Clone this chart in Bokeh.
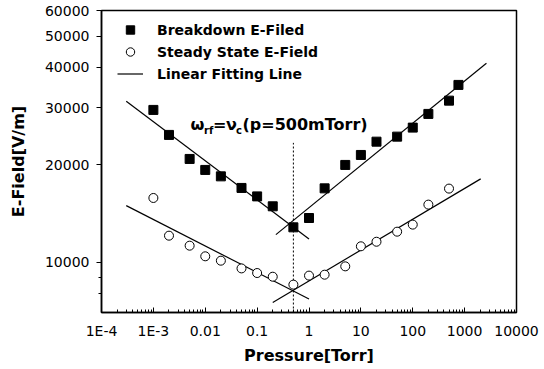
import math
from bokeh.plotting import figure
from bokeh.models import FixedTicker, Label, Legend, LegendItem, Range1d
from bokeh.embed import file_html
from bokeh.resources import INLINE

# ---------------- data ----------------
pressure_torr = [0.001, 0.002, 0.005, 0.01, 0.02, 0.05, 0.1, 0.2, 0.5, 1, 2, 5,
                 10, 20, 50, 100, 200, 500, 760]
breakdown_field = [29580, 24760, 20870, 19300, 18440, 16980, 15990, 14900, 12830,
                   13710, 16930, 20000, 21470, 23600, 24460, 26080, 28750, 31600, 35340]

steady_pressure_torr = [0.001, 0.002, 0.005, 0.01, 0.02, 0.05, 0.1, 0.2, 0.5, 1, 2, 5,
                        10, 20, 50, 100, 200, 500]
steady_field = [15810, 12090, 11260, 10440, 10120, 9580, 9270, 9030, 8535, 9100,
                9160, 9720, 11210, 11580, 12440, 13080, 15080, 16900]

# linear fitting lines (end points)
fit_breakdown_low_p = [3e-4, 1.0]
fit_breakdown_low_e = [31450, 11810]
fit_breakdown_high_p = [0.23, 2630]
fit_breakdown_high_e = [12180, 41200]
fit_steady_low_p = [3e-4, 1.0]
fit_steady_low_e = [14970, 7707]
fit_steady_high_p = [0.2, 2040]
fit_steady_high_e = [7520, 18110]

# vertical dotted marker at p = 500 mTorr
marker_p = [0.5, 0.5]
marker_e = [7000, 23400]

x_ticks = [1e-4, 1e-3, 0.01, 0.1, 1, 10, 100, 1000, 10000]
x_tick_labels = ["1E-4", "1E-3", "0.01", "0.1", "1", "10", "100", "1000", "10000"]
y_ticks = [10000, 20000, 30000, 40000, 50000, 60000]
y_tick_labels = ["10000", "20000", "30000", "40000", "50000", "60000"]
y_minor_ticks = [8000, 9000]
x_minor_ticks = [m * 10.0 ** d for d in range(-4, 4) for m in range(2, 10)]

X_MIN, X_MAX = 1e-4, 1e4
Y_MIN, Y_MAX = 7000, 60000

# ---------------- layout geometry ----------------
W, H = 544, 369
FL, FR, FT, FB = 101, 516, 10, 312


def sx_to_x(sx):
    return 10 ** (math.log10(X_MIN) + (sx - FL) / (FR - FL) * math.log10(X_MAX / X_MIN))


def sy_to_y(sy):
    return 10 ** (math.log10(Y_MIN) + (FB - sy) / (FB - FT) * math.log10(Y_MAX / Y_MIN))


p = figure(width=W, height=H, x_axis_type="log", y_axis_type="log",
           x_range=Range1d(X_MIN, X_MAX), y_range=Range1d(Y_MIN, Y_MAX),
           output_backend="svg", toolbar_location=None,
           min_border_left=FL, min_border_right=W - FR,
           min_border_top=FT, min_border_bottom=H - FB)

p.background_fill_color = "white"
p.border_fill_color = "white"
p.outline_line_color = "black"
p.outline_line_width = 1.5
p.grid.visible = False

FONT = "DejaVu Sans"

# x axis
xa = p.xaxis[0]
xa.ticker = FixedTicker(ticks=x_ticks, minor_ticks=x_minor_ticks)
xa.major_label_overrides = dict(zip(x_ticks, x_tick_labels))
xa.major_tick_in = 5
xa.major_tick_out = 0
xa.minor_tick_in = 3
xa.minor_tick_out = 0
xa.axis_line_width = 1.5
xa.major_label_standoff = 10
xa.major_label_text_font = FONT
xa.major_label_text_font_size = "14px"
xa.major_label_text_color = "black"
xa.axis_label = "Pressure[Torr]"
xa.axis_label_text_font = FONT
xa.axis_label_text_font_style = "bold"
xa.axis_label_text_font_size = "16px"
xa.axis_label_text_color = "black"
xa.axis_label_standoff = 4

# y axis
ya = p.yaxis[0]
ya.ticker = FixedTicker(ticks=y_ticks, minor_ticks=y_minor_ticks)
ya.major_label_overrides = dict(zip(y_ticks, y_tick_labels))
ya.major_tick_in = 0
ya.major_tick_out = 5
ya.minor_tick_in = 0
ya.minor_tick_out = 3
ya.axis_line_width = 1.5
ya.major_label_standoff = 7
ya.major_label_text_font = FONT
ya.major_label_text_font_size = "14px"
ya.major_label_text_color = "black"
ya.axis_label = "E-Field[V/m]"
ya.axis_label_text_font = FONT
ya.axis_label_text_font_style = "bold"
ya.axis_label_text_font_size = "16px"
ya.axis_label_text_color = "black"
ya.axis_label_standoff = 14

# ---------------- glyphs ----------------
r_fit = p.multi_line(
    xs=[fit_breakdown_low_p, fit_breakdown_high_p, fit_steady_low_p, fit_steady_high_p],
    ys=[fit_breakdown_low_e, fit_breakdown_high_e, fit_steady_low_e, fit_steady_high_e],
    line_color="black", line_width=1.2)

p.line(marker_p, marker_e, line_color="black", line_width=1, line_dash="2 2")

r_bd = p.scatter(pressure_torr, breakdown_field, marker="square", size=9,
                 fill_color="black", line_color="black")
r_ss = p.scatter(steady_pressure_torr, steady_field, marker="circle", size=9,
                 fill_color="white", line_color="black", line_width=1)

legend = Legend(items=[
    LegendItem(label="Breakdown E-Filed", renderers=[r_bd]),
    LegendItem(label="Steady State E-Field", renderers=[r_ss]),
    LegendItem(label="Linear Fitting Line", renderers=[r_fit]),
], location=(16, 228), orientation="vertical",
    glyph_width=26, glyph_height=21, label_height=21, label_standoff=14,
    spacing=1, padding=0, margin=0,
    border_line_alpha=0, background_fill_alpha=0,
    label_text_font=FONT, label_text_font_style="bold",
    label_text_font_size="14px", label_text_color="black")
p.add_layout(legend)

# annotation  ω_rf = ν_c (p=500mTorr)
base_y = sy_to_y(123.5)
sub_y = sy_to_y(129.5)
pieces = [
    ("ω", 190.0, base_y, "16px"),
    ("rf", 203.5, sub_y, "10px"),
    ("=", 212.5, base_y, "16px"),
    ("ν", 225.5, base_y, "16px"),
    ("c", 235.5, sub_y, "10px"),
    ("(p=500mTorr)", 242.0, base_y, "16px"),
]
for txt, sx, yy, fs in pieces:
    p.add_layout(Label(x=sx_to_x(sx), y=yy, text=txt, text_align="left",
                       text_baseline="alphabetic", text_font=FONT,
                       text_font_style="bold", text_font_size=fs,
                       text_color="black"))

open("out.html", "w").write(file_html(p, INLINE))
